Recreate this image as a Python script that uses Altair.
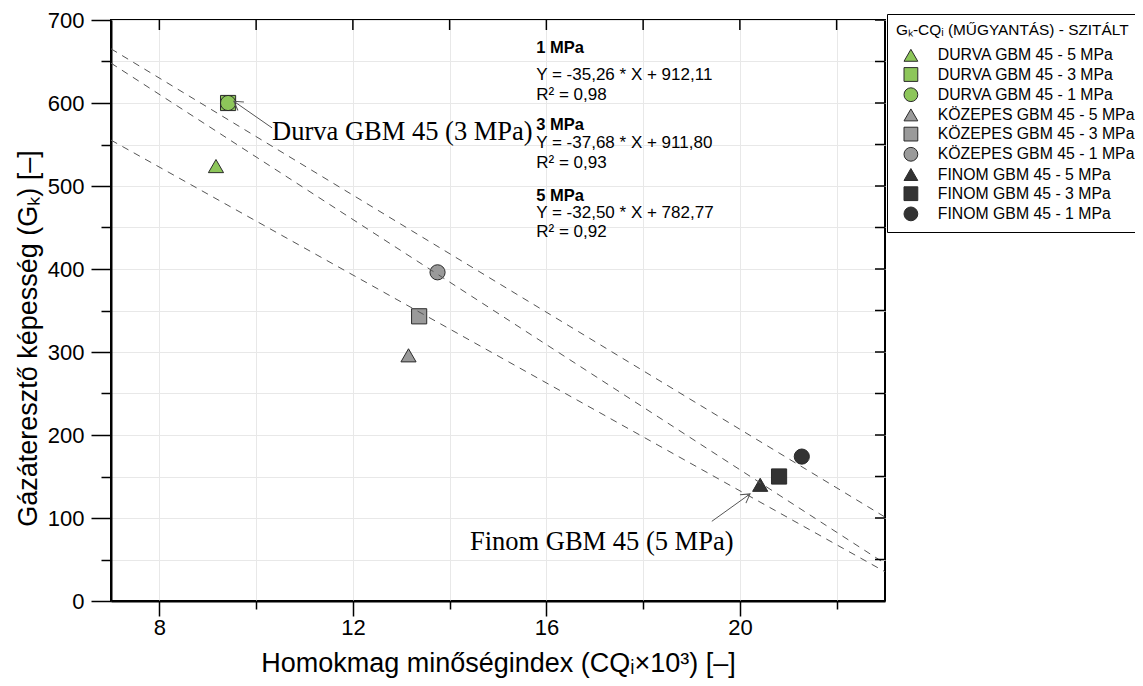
import altair as alt
import pandas as pd

# ---------------- data ----------------
series = [
    "DURVA GBM 45 - 5 MPa", "DURVA GBM 45 - 3 MPa", "DURVA GBM 45 - 1 MPa",
    "KÖZEPES GBM 45 - 5 MPa", "KÖZEPES GBM 45 - 3 MPa", "KÖZEPES GBM 45 - 1 MPa",
    "FINOM GBM 45 - 5 MPa", "FINOM GBM 45 - 3 MPa", "FINOM GBM 45 - 1 MPa",
]
cq_index = [9.17, 9.42, 9.42, 13.15, 13.37, 13.75, 20.42, 20.81, 21.28]
gk_value = [524, 600, 600, 296, 343, 396, 140, 150, 174]
series_fill = ["#8DC65A"] * 3 + ["#9A9A9A"] * 3 + ["#333333"] * 3
series_stroke = ["#2a2a2a"] * 9
series_shape = ["triangle-up", "square", "circle"] * 3

fit_name = ["1 MPa", "3 MPa", "5 MPa"]
fit_slope = [-35.26, -37.68, -32.50]
fit_intercept = [912.11, 911.80, 782.77]
fit_equation = ["Y = -35,26 * X + 912,11", "Y = -37,68 * X + 911,80", "Y = -32,50 * X + 782,77"]
fit_r2 = ["R² = 0,98", "R² = 0,93", "R² = 0,92"]
# text block placement (data units)
eq_x = [15.79, 15.79, 15.79]
eq_head_y = [666, 573, 488]
eq_line_y = [634, 552, 467]
eq_r2_y = [610, 528, 445]

ann_label = ["Durva GBM 45 (3 MPa)", "Finom GBM 45 (5 MPa)"]
ann_x = [10.33, 14.42]
ann_y = [565, 71]
ann_tail_x = [10.33, 19.42]
ann_tail_y = [570, 96]
ann_tip_x = [9.54, 20.21]
ann_tip_y = [602, 129]
ann_angle = [215, 325]

x_domain = [7, 23]
y_domain = [0, 700]
x_ticks = [8, 10, 12, 14, 16, 18, 20, 22]
y_ticks = list(range(0, 701, 50))

W, H = 774, 581
FONT = "Liberation Sans"

# ---------------- tables ----------------
pts = pd.DataFrame({"cq": cq_index, "gk": gk_value, "series": series})
fits = pd.DataFrame({"name": fit_name, "slope": fit_slope, "intercept": fit_intercept,
                     "x0": [x_domain[0]] * 3, "x1": [x_domain[1]] * 3})
eq_head = pd.DataFrame({"cq": eq_x, "gk": eq_head_y, "t": fit_name})
eq_body = pd.DataFrame({"cq": eq_x * 2, "gk": eq_line_y + eq_r2_y, "t": fit_equation + fit_r2})
ann = pd.DataFrame({"cq": ann_x, "gk": ann_y, "t": ann_label,
                    "tx": ann_tail_x, "ty": ann_tail_y, "px": ann_tip_x, "py": ann_tip_y,
                    "ang": ann_angle})
rt = pd.DataFrame({"gk": y_ticks})
tt = pd.DataFrame({"cq": x_ticks})

xs = alt.Scale(domain=x_domain, nice=False, zero=False)
ys = alt.Scale(domain=y_domain, nice=False, zero=False)

x_axis = alt.Axis(
    title="Homokmag minőségindex (CQᵢ×10³) [–]",
    values=x_ticks,
    labelExpr="datum.value % 4 === 0 ? datum.label : ''",
    tickSize={"condition": {"test": "datum.value % 4 === 0", "value": 15}, "value": 8},
    labelPadding=1, titlePadding=12, titleFontSize=27,
)
y_axis = alt.Axis(
    title="Gázáteresztő képesség (Gₖ) [–]",
    values=y_ticks,
    labelExpr="datum.value % 100 === 0 ? datum.label : ''",
    tickSize={"condition": {"test": "datum.value % 100 === 0", "value": 20}, "value": 10},
    labelPadding=7, titlePadding=5, titleFontSize=27, titleY=318,
)


def X(field):
    return alt.X(field, scale=xs, axis=x_axis)


def Y(field):
    return alt.Y(field, scale=ys, axis=y_axis)


legend = alt.Legend(
    title="Gₖ-CQᵢ (MŰGYANTÁS) - SZITÁLT",
    orient="none", legendX=776, legendY=-6,
    strokeColor="black", fillColor="white", padding=9,
    titleFont=FONT, titleFontSize=15.4, titleFontWeight="normal", titleColor="black",
    titlePadding=9, titleLimit=600,
    labelFont=FONT, labelFontSize=15.8, labelColor="black", labelOffset=19,
    symbolSize=190, symbolOffset=7, symbolStrokeWidth=1,
    rowPadding=2.2, labelLimit=600,
)

points = alt.Chart(pts).mark_point(filled=True, size=230, strokeWidth=1, opacity=1).encode(
    x=X("cq:Q"),
    y=Y("gk:Q"),
    fill=alt.Fill("series:N", scale=alt.Scale(domain=series, range=series_fill), legend=legend, sort=series),
    shape=alt.Shape("series:N", scale=alt.Scale(domain=series, range=series_shape), legend=legend, sort=series),
    stroke=alt.Stroke("series:N", scale=alt.Scale(domain=series, range=series_stroke), legend=legend, sort=series),
)

fit_lines = alt.Chart(fits).transform_calculate(
    y0="datum.slope * datum.x0 + datum.intercept",
    y1="datum.slope * datum.x1 + datum.intercept",
).mark_rule(color="#555555", strokeWidth=1, strokeDash=[7, 6]).encode(
    x=X("x0:Q"), x2="x1:Q",
    y=Y("y0:Q"), y2="y1:Q",
)

heads = alt.Chart(eq_head).mark_text(align="left", baseline="middle", font=FONT, fontSize=16.5,
                                     fontWeight="bold", color="black").encode(
    x=X("cq:Q"), y=Y("gk:Q"), text="t:N")
bodies = alt.Chart(eq_body).mark_text(align="left", baseline="middle", font=FONT, fontSize=17,
                                      color="black").encode(
    x=X("cq:Q"), y=Y("gk:Q"), text="t:N")

ann_text = alt.Chart(ann).mark_text(align="left", baseline="middle", font="Liberation Serif",
                                    fontSize=26.5, color="black").encode(
    x=X("cq:Q"), y=Y("gk:Q"), text="t:N")
ann_line = alt.Chart(ann).mark_rule(color="#555555", strokeWidth=1).encode(
    x=X("tx:Q"), x2="px:Q",
    y=Y("ty:Q"), y2="py:Q")
ann_head = alt.Chart(ann).mark_point(shape="M-1,-0.6L0,0L-1,0.6", filled=False, size=300,
                                     stroke="#555555", strokeWidth=1, opacity=1).encode(
    x=X("px:Q"), y=Y("py:Q"),
    angle=alt.Angle("ang:Q", scale=None))

right_ticks = alt.Chart(rt).mark_rule(color="black", strokeWidth=1.5).encode(
    y=Y("gk:Q"), x=alt.value(W), x2=alt.value(W - 10))
top_ticks = alt.Chart(tt).mark_rule(color="black", strokeWidth=1.5).encode(
    x=X("cq:Q"), y=alt.value(0), y2=alt.value(10))

chart = alt.layer(
    points, fit_lines, heads, bodies, ann_line, ann_head, ann_text, right_ticks, top_ticks
).properties(
    width=W, height=H,
    autosize=alt.AutoSizeParams(type="none"),
    padding={"left": 103, "top": 12, "right": 250, "bottom": 85},
    background="white",
).configure_view(
    stroke="black", strokeWidth=2
).configure_axis(
    domainColor="black", domainWidth=2, tickColor="black", tickWidth=1.5,
    gridColor="#e8e8e8", gridWidth=1,
    labelFont=FONT, labelFontSize=22, labelColor="black",
    titleFont=FONT, titleFontWeight="normal", titleColor="black",
)

chart.save("out.html", embed_options={"renderer": "svg", "actions": False})
